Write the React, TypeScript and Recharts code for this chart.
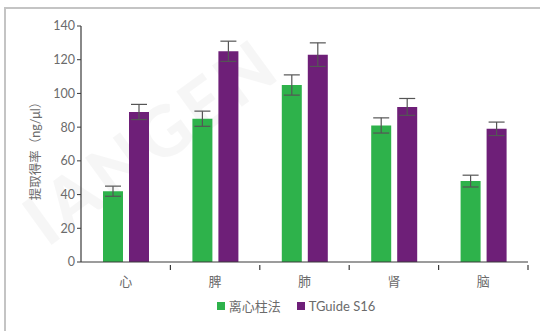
import { Bar, BarChart, ErrorBar, XAxis, YAxis } from 'recharts'

const categories = ['心', '脾', '肺', '肾', '脑']
const centrifuge = [42, 85, 105, 81, 48]
const centrifugeErr = [3, 4.5, 6, 4.5, 3.5]
const tguide = [89, 125, 123, 92, 79]
const tguideErr = [4.5, 6, 7, 5, 4]
const yTicks = [0, 20, 40, 60, 80, 100, 120, 140]

const series = [
  { key: 'centrifuge', name: '离心柱法', color: '#2eb24b' },
  { key: 'tguide', name: 'TGuide S16', color: '#6e1f78' },
]

const data = categories.map((c, i) => ({
  name: c,
  centrifuge: centrifuge[i],
  centrifugeErr: centrifugeErr[i],
  tguide: tguide[i],
  tguideErr: tguideErr[i],
}))

const FONT = "Lato, 'Noto Sans CJK SC', sans-serif"
const TEXT = '#6b6b6b'
const AXIS = '#3a3a3a'

// category label plus a small mark at the right edge of each band
function CategoryTick(props: any) {
  const { x, y, payload, width, visibleTicksCount } = props
  const band = width / visibleTicksCount
  return (
    <g>
      <line x1={x + band / 2} x2={x + band / 2} y1={y - 5} y2={y} stroke={AXIS} strokeWidth={1.2} />
      <text x={x} y={y + 16} textAnchor="middle" fill={TEXT} fontSize={13} fontFamily={FONT}>
        {payload.value}
      </text>
    </g>
  )
}

export default function App() {
  return (
    <div style={{ position: 'absolute', left: 0, top: 0, width: 540, height: 331, background: '#fff', overflow: 'hidden' }}>
      <div style={{ position: 'absolute', left: 4, top: 7, width: 536, height: 2, background: '#c4c4c4' }} />
      <div style={{ position: 'absolute', left: 4, top: 7, width: 2, height: 324, background: '#c4c4c4' }} />
      {/* faint watermark */}
      <div
        style={{
          position: 'absolute',
          left: 150,
          top: 140,
          fontFamily: 'Lato, sans-serif',
          fontWeight: 900,
          fontSize: 70,
          lineHeight: 1,
          color: 'rgba(0,0,0,0.035)',
          transform: 'translate(-50%, -50%) rotate(-36deg)',
          letterSpacing: 4,
          whiteSpace: 'nowrap',
        }}
      >
        IANGEN
      </div>
      <BarChart
        width={540}
        height={331}
        data={data}
        margin={{ top: 26, right: 12, bottom: 39, left: 0 }}
        barSize={20}
        barGap={6}
      >
        <XAxis
          dataKey="name"
          axisLine={{ stroke: AXIS, strokeWidth: 1.2 }}
          tickLine={false}
          tick={<CategoryTick />}
          interval={0}
          height={30}
        />
        <YAxis
          domain={[0, 140]}
          ticks={yTicks}
          width={81}
          axisLine={{ stroke: AXIS, strokeWidth: 1.2 }}
          tickLine={{ stroke: AXIS }}
          tickSize={4}
          tick={{ fill: TEXT, fontSize: 12.5, fontFamily: FONT }}
          label={{
            value: '提取得率（ng/μl）',
            angle: -90,
            position: 'insideLeft',
            offset: 36,
            dy: 4,
            style: { fill: TEXT, fontSize: 12.5, fontFamily: FONT, textAnchor: 'middle' },
          }}
        />
        {series.map((s) => (
          <Bar key={s.key} dataKey={s.key} name={s.name} fill={s.color} isAnimationActive={false}>
            <ErrorBar dataKey={s.key + 'Err'} width={8} stroke="#555" strokeWidth={1.2} />
          </Bar>
        ))}
      </BarChart>
      <div
        style={{
          position: 'absolute',
          top: 296,
          left: 0,
          width: 540,
          display: 'flex',
          justifyContent: 'center',
          paddingLeft: 52,
          boxSizing: 'border-box',
          gap: 16,
          fontFamily: FONT,
          fontSize: 13,
          color: TEXT,
        }}
      >
        {series.map((s) => (
          <div key={s.key} style={{ display: 'flex', alignItems: 'center', gap: 4 }}>
            <span style={{ width: 8, height: 8, background: s.color, display: 'inline-block' }} />
            <span>{s.name}</span>
          </div>
        ))}
      </div>
    </div>
  )
}
